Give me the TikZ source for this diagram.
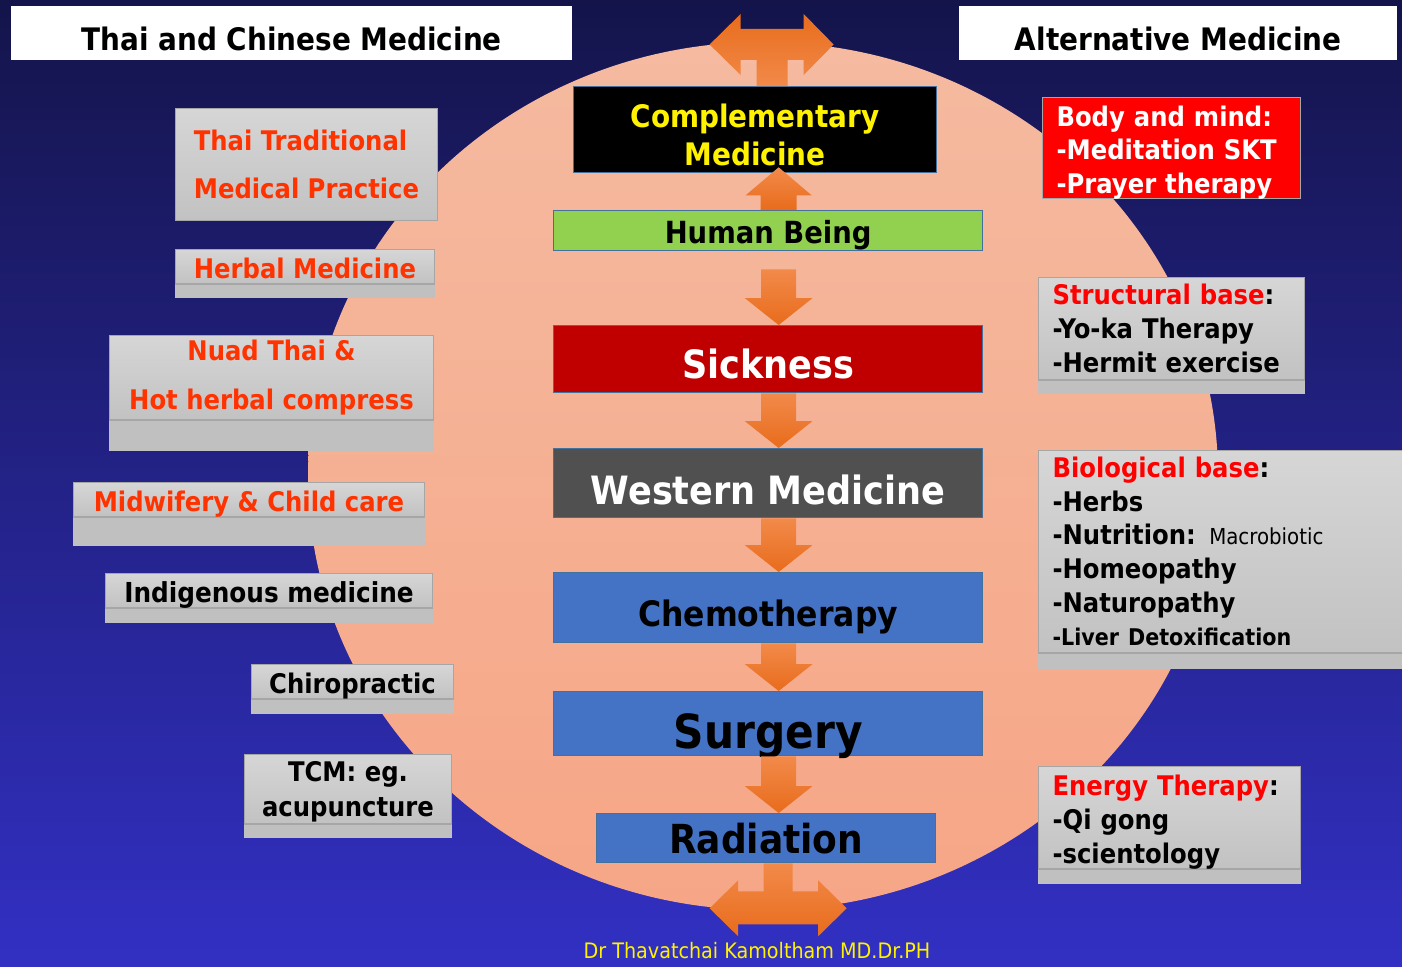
\documentclass[tikz,border=0pt]{standalone}
\usepackage{fontspec}
\setmainfont{DejaVu Sans Condensed}
\usepackage{tikz}
\usetikzlibrary{calc}
\definecolor{navytop}{RGB}{20,20,75}
\definecolor{navybot}{RGB}{50,48,195}
\definecolor{peachtop}{RGB}{245,186,160}
\definecolor{peachbot}{RGB}{246,166,134}
\definecolor{gtop}{RGB}{214,214,214}
\definecolor{gbot}{RGB}{194,194,194}
\definecolor{gext}{RGB}{192,192,192}
\definecolor{gline}{RGB}{166,166,166}
\definecolor{tred}{RGB}{255,51,0}
\definecolor{pred}{RGB}{255,0,0}
\definecolor{bline}{RGB}{65,113,156}
\definecolor{cblue}{RGB}{68,114,196}
\definecolor{dred}{RGB}{192,0,0}
\definecolor{dgray}{RGB}{80,80,80}
\definecolor{lgreen}{RGB}{146,208,80}
\definecolor{otop}{RGB}{242,138,74}
\definecolor{obot}{RGB}{232,108,28}
\newcommand{\fs}[2]{\fontsize{#1}{#2}\selectfont}
% grey strip under a box
\newcommand{\lowpart}[2]{\fill[gext] ([yshift=0.5pt]#1.south west) rectangle ([yshift=-#2pt]#1.south east);
  \draw[gline, line width=1pt] (#1.south west) -- (#1.south east);}
% block arrows between boxes
\newcommand{\flowdown}[3]{\shade[blockarrow] let \p1=($(#1.south)+(10.5,0)$), \p2=($(#2.north)+(10.5,0)$) in
  (\x1-17.5pt,\y1-#3) -- (\x1+17.5pt,\y1-#3) -- (\x1+17.5pt,\y2+27pt) -- (\x1+34pt,\y2+27pt)
  -- (\x1,\y2) -- (\x1-34pt,\y2+27pt) -- (\x1-17.5pt,\y2+27pt) -- cycle;}
\newcommand{\flowup}[2]{\shade[blockarrow] let \p1=($(#1.north)+(10.5,0)$), \p2=($(#2.south)+(10.5,-6)$) in
  (\x1-18pt,\y1) -- (\x1+18pt,\y1) -- (\x1+18pt,\y2-28pt) -- (\x1+33pt,\y2-28pt)
  -- (\x1,\y2) -- (\x1-33pt,\y2-28pt) -- (\x1-18pt,\y2-28pt) -- cycle;}

\begin{document}
\begin{tikzpicture}[x=1pt, y=-1pt,
  title/.style={fill=white, anchor=north west, inner sep=0pt, font=\bfseries\fs{31}{38}},
  gshade/.style={top color=gtop, bottom color=gbot},
  lbox/.style={gshade, draw=gline, line width=1pt, anchor=north west, inner sep=0pt, align=center, text=tred, font=\bfseries\fs{27}{34}},
  rbase/.style={draw=gline, line width=1pt, anchor=north west, inner xsep=14pt, inner ysep=0pt, align=left, font=\bfseries\fs{27}{34}},
  rbox/.style={rbase, gshade},
  cbox/.style={draw=bline, line width=1.3pt, anchor=north west, inner sep=0pt, align=center},
  oneline/.style={text height=#1, text depth=0pt},
  blockarrow/.style={top color=otop, bottom color=obot},
  endarrow/.style={top color=obot, bottom color=otop}]
\useasboundingbox (0,0) rectangle (1402,966);
\shade[top color=navytop, bottom color=navybot] (0,0) rectangle (1402,966);
\shade[top color=peachtop, bottom color=peachbot] (763,476) ellipse [x radius=455, y radius=434];

% headings
\node[title, minimum width=561pt, minimum height=54pt, oneline=34pt] (lhead) at (11,6) {Thai and Chinese Medicine};
\node[title, minimum width=438pt, minimum height=54pt, oneline=34pt] (rhead) at (959,6) {Alternative Medicine};

% thai and chinese side
\node[lbox, minimum width=262pt, minimum height=112pt, align=left, font=\bfseries\fs{27}{48}] (ttm) at (175,108) {Thai Traditional\\Medical Practice};
\node[lbox, minimum width=259pt, minimum height=34pt, oneline=23pt] (herb) at (175,249) {Herbal Medicine};
\lowpart{herb}{14}
\node[lbox, minimum width=324pt, minimum height=84pt, font=\bfseries\fs{27}{49}] (nuad) at (109,335) {Nuad Thai \&\\Hot herbal compress};
\lowpart{nuad}{31}
\node[lbox, minimum width=351pt, minimum height=34pt, oneline=23pt] (midw) at (73,482) {Midwifery \& Child care};
\lowpart{midw}{29}
\node[lbox, text=black, minimum width=327pt, minimum height=34pt, oneline=23pt, font=\bfseries\fs{27.5}{34}] (indig) at (105,573) {Indigenous medicine};
\lowpart{indig}{15}
\node[lbox, text=black, minimum width=202pt, minimum height=34pt, oneline=23pt] (chiro) at (251,664) {Chiropractic};
\lowpart{chiro}{15}
\node[lbox, text=black, minimum width=207pt, minimum height=69pt, text depth=0pt, font=\bfseries\fs{27}{35}] (tcm) at (244,754) {TCM: eg.\\acupuncture};
\lowpart{tcm}{14}

% alternative side
\node[rbase, fill=pred, text=white, text width=230pt, minimum height=101pt, text height=28.5pt, font=\bfseries\fs{27}{33.5}] (body) at (1042,97) {Body and mind:\\-Meditation SKT\\-Prayer therapy};
\node[rbox, text width=238pt, minimum height=102pt] (struct) at (1038,277) {\textcolor{pred}{Structural base}:\\-Yo-ka Therapy\\-Hermit exercise};
\lowpart{struct}{14}
\node[rbox, text width=336pt, minimum height=202pt, font=\bfseries\fs{27}{33.6}] (bio) at (1038,450) {\textcolor{pred}{Biological base}:\\-Herbs\\-Nutrition: {\mdseries\fs{22}{33.6}Macrobiotic}\\-Homeopathy\\-Naturopathy\\{\fs{23}{33.6}-Liver Detoxification}};
\lowpart{bio}{16}
\node[rbox, text width=234pt, minimum height=102pt, text height=28.5pt] (energy) at (1038,766) {\textcolor{pred}{Energy Therapy}:\\-Qi gong\\-scientology};
\lowpart{energy}{15}

% main chain
\node[cbox, fill=black, text=yellow, text width=363pt, minimum height=86pt, text height=33.6pt, font=\bfseries\fs{31}{38}] (comp) at (573,86) {Complementary\\Medicine};
\node[cbox, fill=lgreen, minimum width=429pt, minimum height=40pt, oneline=26pt, font=\bfseries\fs{30.5}{36}] (hb) at (553,210) {Human Being};
\node[cbox, fill=dred, text=white, minimum width=429pt, minimum height=67pt, oneline=38pt, font=\bfseries\fs{39}{46}] (sick) at (553,325) {Sickness};
\node[cbox, fill=dgray, text=white, minimum width=429pt, minimum height=69pt, oneline=42pt, font=\bfseries\fs{39}{46}] (west) at (553,448) {Western Medicine};
\node[cbox, fill=cblue, minimum width=429pt, minimum height=70pt, oneline=37pt, font=\bfseries\fs{35}{42}] (chemo) at (553,572) {Chemotherapy};
\node[cbox, fill=cblue, minimum width=429pt, minimum height=64pt, oneline=50pt, font=\bfseries\fs{47}{54}] (surg) at (553,691) {Surgery};
\node[cbox, fill=cblue, minimum width=339pt, minimum height=49pt, oneline=31pt, font=\bfseries\fs{40}{46}] (rad) at (596,813) {Radiation};

\flowup{hb}{comp}
\flowdown{hb}{sick}{18pt}
\flowdown{sick}{west}{0pt}
\flowdown{west}{chemo}{0pt}
\flowdown{chemo}{surg}{0pt}
\flowdown{surg}{rad}{0pt}
% double arrows at both ends
\shade[endarrow] let \p1=($(comp.north)+(17,0)$) in
  (\x1-15.5pt,\y1) -- (\x1-15.5pt,\y1+26pt) -- (\x1-31.5pt,\y1+26pt) -- (\x1-31.5pt,\y1+11pt) -- (\x1-62.5pt,\y1+41.5pt)
  -- (\x1-31.5pt,\y1+72pt) -- (\x1-31.5pt,\y1+57pt) -- (\x1+31.5pt,\y1+57pt) -- (\x1+31.5pt,\y1+72pt) -- (\x1+61.5pt,\y1+41.5pt)
  -- (\x1+31.5pt,\y1+11pt) -- (\x1+31.5pt,\y1+26pt) -- (\x1+15.5pt,\y1+26pt) -- (\x1+15.5pt,\y1) -- cycle;
\shade[blockarrow] let \p1=($(rad.south)+(12,0)$) in
  (\x1-14.5pt,\y1) -- (\x1-14.5pt,\y1-28pt) -- (\x1-40pt,\y1-28pt) -- (\x1-40pt,\y1-17pt) -- (\x1-68.5pt,\y1-45pt)
  -- (\x1-40pt,\y1-73pt) -- (\x1-40pt,\y1-61pt) -- (\x1+40pt,\y1-61pt) -- (\x1+40pt,\y1-73pt) -- (\x1+68.5pt,\y1-45pt)
  -- (\x1+40pt,\y1-17pt) -- (\x1+40pt,\y1-28pt) -- (\x1+14.5pt,\y1-28pt) -- (\x1+14.5pt,\y1) -- cycle;

\node[text=yellow, font=\fs{21.3}{24}] (credit) at (757,951) {Dr Thavatchai Kamoltham MD.Dr.PH};
\end{tikzpicture}
\end{document}
